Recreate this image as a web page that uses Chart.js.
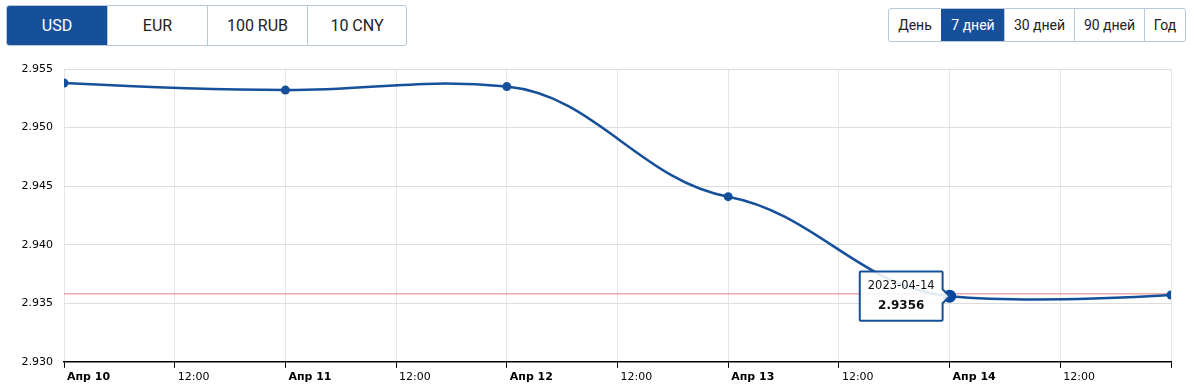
<!DOCTYPE html>
<html>
<head>
<meta charset="utf-8">
<script src="https://cdn.jsdelivr.net/npm/chart.js@4"></script>
<style>
  body { margin: 0; width: 1194px; height: 387px; background: #fff; position: relative; overflow: hidden; font-family: Roboto, "Noto Sans", sans-serif; }
  .group { position: absolute; display: flex; border: 1px solid #b9c8d6; border-radius: 3px; overflow: hidden; }
  .group div { border-left: 1px solid #b9c8d6; color: #222; text-align: center; box-sizing: border-box; }
  .group div:first-child { border-left: none; }
  .group div.on { background: #16509a; color: #fff; border-color: #16509a; }
  #cur { left: 6px; top: 5px; height: 39px; }
  #cur div { width: 100px; line-height: 39px; font-size: 16px; }
  #per { left: 888px; top: 8px; height: 32px; }
  #per div { line-height: 32px; font-size: 14px; }
  #wrap { position: absolute; left: 0; top: 50px; width: 1194px; height: 337px; }
</style>
</head>
<body>
<div class="group" id="cur">
  <div class="on">USD</div><div>EUR</div><div>100 RUB</div><div style="width:99px">10 CNY</div>
</div>
<div class="group" id="per">
  <div style="width:52px">День</div><div class="on" style="width:63px">7 дней</div><div style="width:70px">30 дней</div><div style="width:70px">90 дней</div><div style="width:41px">Год</div>
</div>
<div id="wrap"><canvas id="chart"></canvas></div>
<script>
// курс USD за 7 дней
var dates = ['2023-04-10', '2023-04-11', '2023-04-12', '2023-04-13', '2023-04-14', '2023-04-15'];
var hours = [0, 24, 48, 72, 96, 120];
var rates = [2.9538, 2.9532, 2.9535, 2.9441, 2.9356, 2.9357];
var refRate = 2.9358;
var dayNames = ['Апр 10', 'Апр 11', 'Апр 12', 'Апр 13', 'Апр 14', ''];

var blue = '#16509a';

var points = hours.map((h, i) => ({x: h, y: rates[i]}));
var refLine = [{x: hours[0], y: refRate}, {x: hours[hours.length - 1], y: refRate}];

// softer spline: control points far out in x, flattened slope
var splinePlugin = {
  id: 'spline',
  beforeDatasetsDraw(chart) {
    var meta = chart.getDatasetMeta(0);
    meta.dataset.updateControlPoints(chart.chartArea);
    var pts = meta.data;
    var last = pts.length - 1;
    pts.forEach((p, i) => {
      var prev = pts[i - 1], next = pts[i + 1];
      var slope = (prev && next) ? 0.4 * (next.y - prev.y) / (next.x - prev.x) : 0;
      var dl = prev ? 0.4 * (p.x - prev.x) : 0;
      var dr = next ? 0.4 * (next.x - p.x) : 0;
      if (i === 0 || i === last) { dl = 0; dr = 0; }
      p.cp1x = p.x - dl; p.cp1y = p.y - dl * slope;
      p.cp2x = p.x + dr; p.cp2y = p.y + dr * slope;
    });
  }
};

var chart = new Chart(document.getElementById('chart'), {
  type: 'line',
  data: {
    datasets: [
      {
        data: points,
        borderColor: blue,
        backgroundColor: blue,
        borderWidth: 2.5,
        tension: 0.3,
        pointRadius: 4.5,
        pointHoverRadius: 6.5,
        pointBorderWidth: 0,
        pointHoverBorderWidth: 0,
        order: 1
      },
      {
        data: refLine,
        borderColor: '#ea7b7b',
        borderWidth: 1,
        pointRadius: 0,
        pointHoverRadius: 0,
        order: 2
      }
    ]
  },
  options: {
    responsive: true,
    maintainAspectRatio: false,
    animation: false,
    events: [],
    layout: { padding: { left: 0, right: 23, top: 19, bottom: 0 } },
    plugins: {
      legend: { display: false },
      tooltip: {
        xAlign: 'right',
        yAlign: 'center',
        backgroundColor: 'rgba(255,255,255,0.88)',
        borderColor: blue,
        borderWidth: 2,
        cornerRadius: 1,
        caretSize: 7,
        caretPadding: 0,
        padding: { left: 8, right: 8, top: 8, bottom: 8 },
        displayColors: false,
        titleColor: '#111',
        bodyColor: '#111',
        titleAlign: 'center',
        bodyAlign: 'center',
        titleFont: { family: 'DejaVu Sans', size: 11.5, weight: 'normal' },
        bodyFont: { family: 'DejaVu Sans', size: 12, weight: 'bold' },
        titleMarginBottom: 5,
        callbacks: {
          title: items => dates[items[0].dataIndex],
          label: item => rates[item.dataIndex].toFixed(4)
        }
      }
    },
    scales: {
      x: {
        type: 'linear',
        min: 0,
        max: 120,
        ticks: {
          stepSize: 12,
          autoSkip: false,
          maxRotation: 0,
          align: 'start',
          labelOffset: 3,
          padding: 3,
          color: '#000',
          font: ctx => ({ family: 'DejaVu Sans', size: 11, weight: ctx.tick && ctx.tick.value % 24 === 0 ? 'bold' : 'normal' }),
          callback: v => v % 24 === 0 ? dayNames[v / 24] : '12:00'
        },
        grid: { color: '#e6e6e6', tickColor: '#000', tickLength: 6 },
        border: { color: '#000', width: 1.5 }
      },
      y: {
        min: 2.930,
        max: 2.955,
        afterFit: s => { s.width = 64; },
        ticks: {
          stepSize: 0.005,
          padding: 11,
          color: '#000',
          font: { family: 'DejaVu Sans', size: 11 },
          callback: v => v.toFixed(3)
        },
        grid: { color: '#dcdcdc', drawTicks: false },
        border: { display: false }
      }
    }
  },
  plugins: [splinePlugin]
});

var active = [{datasetIndex: 0, index: 4}];
chart.setActiveElements(active);
chart.tooltip.setActiveElements(active, {x: 0, y: 0});
chart.update();
</script>
</body>
</html>
